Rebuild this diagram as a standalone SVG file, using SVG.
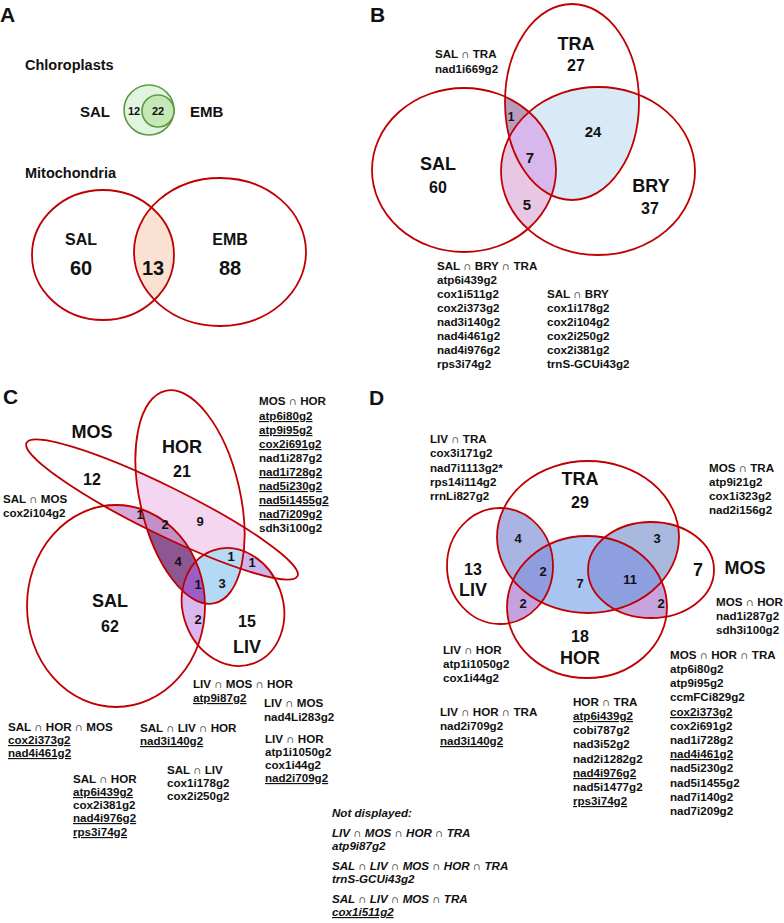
<svg xmlns="http://www.w3.org/2000/svg" xmlns:xlink="http://www.w3.org/1999/xlink" width="784" height="923" viewBox="0 0 784 923">
<style>
text{font-family:"Liberation Sans",Arial,"DejaVu Sans",sans-serif;font-weight:bold;fill:#111}
.t{font-size:11.6px}
.u{text-decoration:underline}
.it{font-style:italic}
.big{font-size:18px;text-anchor:middle}
.num{font-size:13px;text-anchor:middle}
.pn{font-size:21px}
.ttl{font-size:14.5px}
.out{fill:none;stroke:#c00000;stroke-width:1.8}
</style>
<defs>
<ellipse id="aSAL" cx="103" cy="255" rx="71" ry="65"/>
<ellipse id="aEMB" cx="220" cy="252" rx="86" ry="74"/>
<ellipse id="bSAL" cx="464" cy="170" rx="92" ry="82"/>
<ellipse id="bTRA" cx="572" cy="102" rx="67" ry="98"/>
<ellipse id="bBRY" cx="598" cy="171" rx="97" ry="84"/>
<ellipse id="cMOS" cx="162" cy="509.5" rx="151" ry="24" transform="rotate(26.2 162 509.5)"/>
<ellipse id="cHOR" cx="190" cy="497" rx="50" ry="109" transform="rotate(-13 190 497)"/>
<ellipse id="cSAL" cx="116" cy="606" rx="89" ry="101"/>
<ellipse id="cLIV" cx="233" cy="607" rx="50" ry="60" transform="rotate(-20 233 607)"/>
<ellipse id="dTRA" cx="588" cy="537" rx="91" ry="76"/>
<ellipse id="dLIV" cx="500" cy="566" rx="53" ry="58"/>
<ellipse id="dHOR" cx="587" cy="607" rx="80" ry="71"/>
<ellipse id="dMOS" cx="651" cy="570" rx="63" ry="48"/>
<clipPath id="k_aSAL"><use href="#aSAL"/></clipPath>
<clipPath id="k_bSAL"><use href="#bSAL"/></clipPath>
<clipPath id="k_bTRA"><use href="#bTRA"/></clipPath>
<clipPath id="k_cMOS"><use href="#cMOS"/></clipPath>
<clipPath id="k_cHOR"><use href="#cHOR"/></clipPath>
<clipPath id="k_cSAL"><use href="#cSAL"/></clipPath>
<clipPath id="k_cLIV"><use href="#cLIV"/></clipPath>
<clipPath id="k_dTRA"><use href="#dTRA"/></clipPath>
<clipPath id="k_dLIV"><use href="#dLIV"/></clipPath>
<clipPath id="k_dHOR"><use href="#dHOR"/></clipPath>
<clipPath id="k_dMOS"><use href="#dMOS"/></clipPath>
</defs>
<rect width="784" height="923" fill="#fff"/>

<!-- Panel A -->
<g id="panelA">
<text x="0" y="22" class="pn">A</text>
<text x="25" y="70" class="ttl">Chloroplasts</text>
<g id="chloro">
<circle cx="149" cy="110" r="25" fill="#e0f4e0" stroke="#5e9a44" stroke-width="1.6"/>
<circle cx="158" cy="111" r="16" fill="#c6e7b6" stroke="#5e9a44" stroke-width="1.6"/>
<text x="80" y="117" style="font-size:15px">SAL</text>
<text x="190" y="117" style="font-size:15px">EMB</text>
<text x="134" y="115" style="font-size:11px;text-anchor:middle">12</text>
<text x="158" y="115" style="font-size:11px;text-anchor:middle">22</text>
</g>
<text x="25" y="178" class="ttl">Mitochondria</text>
<g id="mito">
<use href="#aEMB" clip-path="url(#k_aSAL)" fill="#fbe1d2"/>
<use href="#aSAL" class="out"/>
<use href="#aEMB" class="out"/>
<text x="81" y="245" class="big" style="font-size:16px">SAL</text>
<text x="81" y="275" class="big" style="font-size:20px">60</text>
<text x="153" y="275" class="big" style="font-size:20px">13</text>
<text x="230" y="245" class="big" style="font-size:16px">EMB</text>
<text x="230" y="275" class="big" style="font-size:20px">88</text>
</g>
</g>

<!-- Panel B -->
<g id="panelB">
<text x="370" y="22" class="pn">B</text>
<g id="bFills">
<use href="#bTRA" clip-path="url(#k_bSAL)" fill="#b79cbb"/>
<use href="#bBRY" clip-path="url(#k_bSAL)" fill="#e8c7e4"/>
<use href="#bBRY" clip-path="url(#k_bTRA)" fill="#d8eaf8"/>
<g clip-path="url(#k_bSAL)"><use href="#bBRY" clip-path="url(#k_bTRA)" fill="#d8b7ec"/></g>
</g>
<g id="bSets">
<use href="#bSAL" class="out"/>
<use href="#bTRA" class="out"/>
<use href="#bBRY" class="out"/>
</g>
<text x="576" y="50" class="big">TRA</text>
<text x="576" y="71" class="big" style="font-size:16px">27</text>
<text x="438" y="170" class="big">SAL</text>
<text x="438" y="193" class="big" style="font-size:16px">60</text>
<text x="651" y="192" class="big">BRY</text>
<text x="650" y="214" class="big" style="font-size:16px">37</text>
<text x="511" y="121" class="num" style="font-size:12px">1</text>
<text x="593" y="137" class="num" style="font-size:15px">24</text>
<text x="530" y="163" class="num" style="font-size:15px">7</text>
<text x="527" y="210" class="num" style="font-size:15px">5</text>
<text x="435" y="58" class="t">SAL ∩ TRA</text>
<text x="435" y="73" class="t">nad1i669g2</text>
<text x="437" y="270" class="t">SAL ∩ BRY ∩ TRA</text>
<text x="437" y="284" class="t">atp6i439g2</text>
<text x="437" y="298" class="t">cox1i511g2</text>
<text x="437" y="312" class="t">cox2i373g2</text>
<text x="437" y="326" class="t">nad3i140g2</text>
<text x="437" y="340" class="t">nad4i461g2</text>
<text x="437" y="354" class="t">nad4i976g2</text>
<text x="437" y="368" class="t">rps3i74g2</text>
<text x="547" y="298" class="t">SAL ∩ BRY</text>
<text x="547" y="312" class="t">cox1i178g2</text>
<text x="547" y="326" class="t">cox2i104g2</text>
<text x="547" y="340" class="t">cox2i250g2</text>
<text x="547" y="354" class="t">cox2i381g2</text>
<text x="547" y="368" class="t">trnS-GCUi43g2</text>
</g>

<!-- Panel C -->
<g id="panelC">
<text x="3" y="404" class="pn">C</text>
<g id="cFills">
<use href="#cHOR" clip-path="url(#k_cMOS)" fill="#f4d6f0"/>
<use href="#cMOS" clip-path="url(#k_cSAL)" fill="#d6a8da"/>
<use href="#cHOR" clip-path="url(#k_cSAL)" fill="#8d5891"/>
<g clip-path="url(#k_cSAL)"><use href="#cMOS" clip-path="url(#k_cHOR)" fill="#c48fc6"/></g>
<use href="#cHOR" clip-path="url(#k_cLIV)" fill="#b3d9f4"/>
<use href="#cSAL" clip-path="url(#k_cLIV)" fill="#d9b8f0"/>
<g clip-path="url(#k_cLIV)"><use href="#cSAL" clip-path="url(#k_cHOR)" fill="#9a5ec6"/></g>
<use href="#cMOS" clip-path="url(#k_cLIV)" fill="#c9b6ef"/>
<g clip-path="url(#k_cLIV)"><use href="#cMOS" clip-path="url(#k_cHOR)" fill="#b6daf4"/></g>
</g>
<g id="cSets">
<use href="#cSAL" class="out"/>
<use href="#cHOR" class="out"/>
<use href="#cMOS" class="out"/>
<use href="#cLIV" class="out"/>
</g>
<text x="92" y="438" class="big">MOS</text>
<text x="92" y="485" class="big" style="font-size:16px">12</text>
<text x="182" y="453" class="big">HOR</text>
<text x="182" y="477" class="big" style="font-size:16px">21</text>
<text x="110" y="607" class="big">SAL</text>
<text x="110" y="632" class="big" style="font-size:16px">62</text>
<text x="247" y="627" class="big" style="font-size:16px">15</text>
<text x="247" y="653" class="big">LIV</text>
<text x="140" y="519" class="num">1</text>
<text x="165" y="529" class="num">2</text>
<text x="200" y="526" class="num">9</text>
<text x="178" y="566" class="num">4</text>
<text x="231" y="561" class="num">1</text>
<text x="252" y="567" class="num">1</text>
<text x="198" y="589" class="num">1</text>
<text x="222" y="588" class="num">3</text>
<text x="198" y="624" class="num">2</text>
<text x="3" y="503" class="t">SAL ∩ MOS</text>
<text x="3" y="517" class="t">cox2i104g2</text>
<text x="259" y="405" class="t">MOS ∩ HOR</text>
<text x="259" y="420" class="t u">atp6i80g2</text>
<text x="259" y="434" class="t u">atp9i95g2</text>
<text x="259" y="448" class="t u">cox2i691g2</text>
<text x="259" y="462" class="t">nad1i287g2</text>
<text x="259" y="476" class="t u">nad1i728g2</text>
<text x="259" y="490" class="t u">nad5i230g2</text>
<text x="259" y="504" class="t u">nad5i1455g2</text>
<text x="259" y="518" class="t u">nad7i209g2</text>
<text x="259" y="532" class="t">sdh3i100g2</text>
<text x="193" y="688" class="t">LIV ∩ MOS ∩ HOR</text>
<text x="193" y="702" class="t u">atp9i87g2</text>
<text x="264" y="707" class="t">LIV ∩ MOS</text>
<text x="264" y="721" class="t">nad4Li283g2</text>
<text x="265" y="743" class="t">LIV ∩ HOR</text>
<text x="265" y="756" class="t">atp1i1050g2</text>
<text x="265" y="769" class="t">cox1i44g2</text>
<text x="265" y="782" class="t u">nad2i709g2</text>
<text x="8" y="731" class="t">SAL ∩ HOR ∩ MOS</text>
<text x="8" y="744" class="t u">cox2i373g2</text>
<text x="8" y="757" class="t u">nad4i461g2</text>
<text x="140" y="732" class="t">SAL ∩ LIV ∩ HOR</text>
<text x="140" y="745" class="t u">nad3i140g2</text>
<text x="167" y="774" class="t">SAL ∩ LIV</text>
<text x="167" y="787" class="t">cox1i178g2</text>
<text x="167" y="800" class="t">cox2i250g2</text>
<text x="73" y="783" class="t">SAL ∩ HOR</text>
<text x="73" y="796" class="t u">atp6i439g2</text>
<text x="73" y="809" class="t">cox2i381g2</text>
<text x="73" y="822" class="t u">nad4i976g2</text>
<text x="73" y="836" class="t u">rps3i74g2</text>
</g>

<!-- Panel D -->
<g id="panelD">
<text x="369" y="405" class="pn">D</text>
<g id="dFills">
<use href="#dTRA" clip-path="url(#k_dLIV)" fill="#aab4e2"/>
<use href="#dHOR" clip-path="url(#k_dLIV)" fill="#c4a2e0"/>
<use href="#dHOR" clip-path="url(#k_dTRA)" fill="#a9c4f1"/>
<use href="#dTRA" clip-path="url(#k_dMOS)" fill="#a9b9dd"/>
<use href="#dHOR" clip-path="url(#k_dMOS)" fill="#c7a2db"/>
<g clip-path="url(#k_dLIV)"><use href="#dHOR" clip-path="url(#k_dTRA)" fill="#8f9ce0"/></g>
<g clip-path="url(#k_dMOS)"><use href="#dHOR" clip-path="url(#k_dTRA)" fill="#8e9fe0"/></g>
</g>
<g id="dSets">
<use href="#dTRA" class="out"/>
<use href="#dLIV" class="out"/>
<use href="#dHOR" class="out"/>
<use href="#dMOS" class="out"/>
</g>
<text x="580" y="485" class="big">TRA</text>
<text x="580" y="508" class="big" style="font-size:16px">29</text>
<text x="473" y="575" class="big" style="font-size:16px">13</text>
<text x="473" y="596" class="big">LIV</text>
<text x="698" y="576" class="big">7</text>
<text x="745" y="574" class="big">MOS</text>
<text x="580" y="642" class="big" style="font-size:16px">18</text>
<text x="580" y="664" class="big">HOR</text>
<text x="518" y="543" class="num">4</text>
<text x="543" y="576" class="num">2</text>
<text x="580" y="588" class="num">7</text>
<text x="630" y="584" class="num">11</text>
<text x="657" y="543" class="num">3</text>
<text x="523" y="608" class="num">2</text>
<text x="661" y="608" class="num">2</text>
<text x="430" y="443" class="t">LIV ∩ TRA</text>
<text x="430" y="457" class="t">cox3i171g2</text>
<text x="430" y="472" class="t">nad7i1113g2*</text>
<text x="430" y="486" class="t">rps14i114g2</text>
<text x="430" y="500" class="t">rrnLi827g2</text>
<text x="709" y="472" class="t">MOS ∩ TRA</text>
<text x="709" y="486" class="t">atp9i21g2</text>
<text x="709" y="500" class="t">cox1i323g2</text>
<text x="709" y="514" class="t">nad2i156g2</text>
<text x="716" y="606" class="t">MOS ∩ HOR</text>
<text x="716" y="620" class="t">nad1i287g2</text>
<text x="716" y="634" class="t">sdh3i100g2</text>
<text x="443" y="654" class="t">LIV ∩ HOR</text>
<text x="443" y="668" class="t">atp1i1050g2</text>
<text x="443" y="682" class="t">cox1i44g2</text>
<text x="440" y="716" class="t">LIV ∩ HOR ∩ TRA</text>
<text x="440" y="730" class="t">nad2i709g2</text>
<text x="440" y="745" class="t u">nad3i140g2</text>
<text x="573" y="706" class="t">HOR ∩ TRA</text>
<text x="573" y="720" class="t u">atp6i439g2</text>
<text x="573" y="734" class="t">cobi787g2</text>
<text x="573" y="748" class="t">nad3i52g2</text>
<text x="573" y="763" class="t">nad2i1282g2</text>
<text x="573" y="777" class="t u">nad4i976g2</text>
<text x="573" y="791" class="t">nad5i1477g2</text>
<text x="573" y="805" class="t u">rps3i74g2</text>
<text x="670" y="659" class="t">MOS ∩ HOR ∩ TRA</text>
<text x="670" y="673" class="t">atp6i80g2</text>
<text x="670" y="687" class="t">atp9i95g2</text>
<text x="670" y="701" class="t">ccmFCi829g2</text>
<text x="670" y="716" class="t u">cox2i373g2</text>
<text x="670" y="730" class="t">cox2i691g2</text>
<text x="670" y="744" class="t">nad1i728g2</text>
<text x="670" y="758" class="t u">nad4i461g2</text>
<text x="670" y="772" class="t">nad5i230g2</text>
<text x="670" y="787" class="t">nad5i1455g2</text>
<text x="670" y="801" class="t">nad7i140g2</text>
<text x="670" y="815" class="t">nad7i209g2</text>
</g>

<!-- Not displayed -->
<g id="notDisplayed">
<text x="332" y="817" class="t it">Not displayed:</text>
<text x="332" y="837" class="t it">LIV ∩ MOS ∩ HOR ∩ TRA</text>
<text x="332" y="850" class="t it">atp9i87g2</text>
<text x="332" y="870" class="t it">SAL ∩ LIV ∩ MOS ∩ HOR ∩ TRA</text>
<text x="332" y="883" class="t it">trnS-GCUi43g2</text>
<text x="332" y="903" class="t it">SAL ∩ LIV ∩ MOS ∩ TRA</text>
<text x="332" y="916" class="t it u">cox1i511g2</text>
</g>
</svg>
